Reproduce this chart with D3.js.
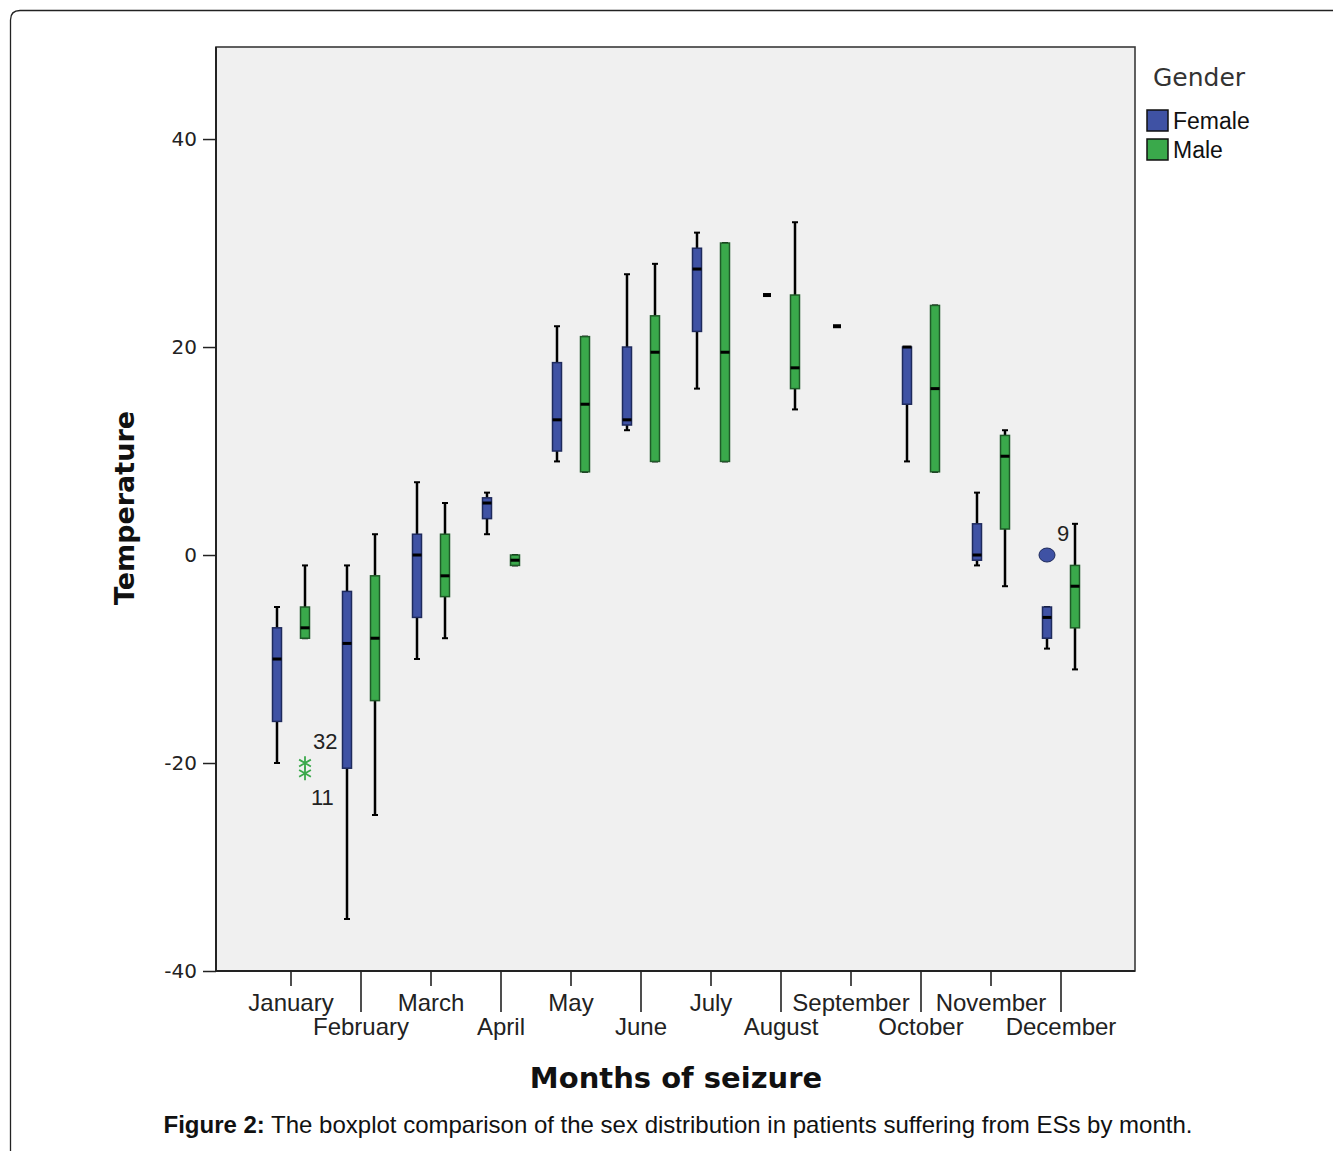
<!DOCTYPE html>
<html>
<head>
<meta charset="utf-8">
<script src="https://cdn.jsdelivr.net/npm/d3@7"></script>
<style>
  body { margin: 0; background: #fff; }
  svg { display: block; }
</style>
</head>
<body>
<svg id="chart" width="1333" height="1151"></svg>
<script>
// months on the x axis
var months = ["January", "February", "March", "April", "May", "June",
  "July", "August", "September", "October", "November", "December"];
var genders = ["Female", "Male"];

// [low whisker, Q1, median, Q3, high whisker] per month
var femaleBoxes = [
  [-20, -16, -10, -7, -5],
  [-35, -20.5, -8.5, -3.5, -1],
  [-10, -6, 0, 2, 7],
  [2, 3.5, 5, 5.5, 6],
  [9, 10, 13, 18.5, 22],
  [12, 12.5, 13, 20, 27],
  [16, 21.5, 27.5, 29.5, 31],
  [25, 25, 25, 25, 25],
  [22, 22, 22, 22, 22],
  [9, 14.5, 20, 20, 20],
  [-1, -0.5, 0, 3, 6],
  [-9, -8, -6, -5, -5]
];
var maleBoxes = [
  [-8, -8, -7, -5, -1],
  [-25, -14, -8, -2, 2],
  [-8, -4, -2, 2, 5],
  [-1, -1, -0.5, 0, 0],
  [8, 8, 14.5, 21, 21],
  [9, 9, 19.5, 23, 28],
  [9, 9, 19.5, 30, 30],
  [14, 16, 18, 25, 32],
  null,
  [8, 8, 16, 24, 24],
  [-3, 2.5, 9.5, 11.5, 12],
  [-11, -7, -3, -1, 3]
];

// outliers / extremes with their case labels
var outlierMonths = ["January", "January", "December"];
var outlierGenders = ["Male", "Male", "Female"];
var outlierValues = [-20, -21, 0];
var outlierLabels = ["32", "11", "9"];
var outlierKinds = ["star", "star", "circle"];

var yTicks = [-40, -20, 0, 20, 40];

var colors = { Female: "#3f52a4", Male: "#3aa94b" };
var strokes = { Female: "#1e2a5c", Male: "#1f5a28" };

var svg = d3.select("#chart");

// outer figure frame (open on the right and bottom)
svg.append("path")
  .attr("d", "M10.5,1160 L10.5,20 Q10.5,10.5 20,10.5 L1345,10.5")
  .attr("fill", "none")
  .attr("stroke", "#222")
  .attr("stroke-width", 1.3);

var plot = { left: 216, right: 1135, top: 47, bottom: 971 };

var x = d3.scaleBand().domain(months).range([256, 1096]);
var xSub = d3.scaleBand().domain(genders).range([7, 63]);
var y = d3.scaleLinear().domain([-40, 48.85]).range([plot.bottom, plot.top]);

function cx(month, gender) {
  return x(month) + xSub(gender) + xSub.bandwidth() / 2;
}

// plot background
svg.append("rect")
  .attr("x", plot.left).attr("y", plot.top)
  .attr("width", plot.right - plot.left)
  .attr("height", plot.bottom - plot.top)
  .attr("fill", "#f0f0f0")
  .attr("stroke", "#3a3a3a")
  .attr("stroke-width", 1.6);

// axis lines along the whole plot edge
svg.append("line")
  .attr("x1", plot.left).attr("x2", plot.left)
  .attr("y1", plot.top).attr("y2", plot.bottom)
  .attr("stroke", "#222").attr("stroke-width", 2);
svg.append("line")
  .attr("x1", plot.left).attr("x2", plot.right)
  .attr("y1", plot.bottom).attr("y2", plot.bottom)
  .attr("stroke", "#222").attr("stroke-width", 2);

// y axis
var yAxis = svg.append("g")
  .attr("transform", "translate(" + plot.left + ",0)")
  .call(d3.axisLeft(y).tickValues(yTicks).tickSize(13).tickSizeOuter(0).tickPadding(6)
    .tickFormat(function (d) { return String(d); }));
yAxis.select(".domain").remove();
yAxis.selectAll(".tick line").attr("stroke", "#222").attr("stroke-width", 1.5);
yAxis.selectAll(".tick text")
  .attr("font-family", "DejaVu Sans")
  .attr("font-size", 20)
  .attr("fill", "#222");

// x axis with staggered labels
var xAxis = svg.append("g")
  .attr("transform", "translate(0," + plot.bottom + ")")
  .call(d3.axisBottom(x).tickSize(0).tickPadding(0));
xAxis.select(".domain").remove();
xAxis.selectAll(".tick line")
  .attr("y2", function (d, i) { return i % 2 === 0 ? 15 : 41; })
  .attr("stroke", "#222").attr("stroke-width", 1.6);
xAxis.selectAll(".tick text")
  .attr("y", function (d, i) { return i % 2 === 0 ? 40 : 64; })
  .attr("dy", 0)
  .attr("font-family", "Liberation Sans, Arial")
  .attr("font-size", 24)
  .attr("fill", "#222");

// axis titles
svg.append("text")
  .attr("transform", "translate(134,508) rotate(-90)")
  .attr("text-anchor", "middle")
  .attr("font-family", "DejaVu Sans")
  .attr("font-weight", "bold")
  .attr("font-size", 27)
  .attr("fill", "#111")
  .text("Temperature");

svg.append("text")
  .attr("x", 676).attr("y", 1088)
  .attr("text-anchor", "middle")
  .attr("font-family", "DejaVu Sans")
  .attr("font-weight", "bold")
  .attr("font-size", 29)
  .attr("fill", "#111")
  .text("Months of seizure");

// boxes
var boxWidth = 9;
var series = [
  { gender: "Female", boxes: femaleBoxes },
  { gender: "Male", boxes: maleBoxes }
];

series.forEach(function (s) {
  var g = svg.append("g").attr("class", "series-" + s.gender);
  s.boxes.forEach(function (b, i) {
    if (!b) return;
    var m = months[i];
    var c = cx(m, s.gender);
    var lo = b[0], q1 = b[1], med = b[2], q3 = b[3], hi = b[4];
    if (q1 === q3) {
      // single value: draw a short black dash
      g.append("rect")
        .attr("x", c - 4).attr("y", y(med) - 2)
        .attr("width", 8).attr("height", 4)
        .attr("fill", "#000");
      return;
    }
    // whiskers
    g.append("line")
      .attr("x1", c).attr("x2", c)
      .attr("y1", y(hi)).attr("y2", y(q3))
      .attr("stroke", "#000").attr("stroke-width", 2.5);
    g.append("line")
      .attr("x1", c).attr("x2", c)
      .attr("y1", y(q1)).attr("y2", y(lo))
      .attr("stroke", "#000").attr("stroke-width", 2.5);
    // caps
    [lo, hi].forEach(function (v) {
      g.append("line")
        .attr("x1", c - 3).attr("x2", c + 3)
        .attr("y1", y(v)).attr("y2", y(v))
        .attr("stroke", "#000").attr("stroke-width", 2);
    });
    // box
    g.append("rect")
      .attr("x", c - boxWidth / 2).attr("y", y(q3))
      .attr("width", boxWidth).attr("height", y(q1) - y(q3))
      .attr("fill", colors[s.gender])
      .attr("stroke", strokes[s.gender])
      .attr("stroke-width", 1.5);
    // median
    g.append("line")
      .attr("x1", c - boxWidth / 2).attr("x2", c + boxWidth / 2)
      .attr("y1", y(med)).attr("y2", y(med))
      .attr("stroke", "#000").attr("stroke-width", 3);
  });
});

// outliers
var star = d3.symbol().type(d3.symbolAsterisk).size(130);
outlierValues.forEach(function (v, i) {
  var c = cx(outlierMonths[i], outlierGenders[i]);
  var g = outlierGenders[i];
  if (outlierKinds[i] === "star") {
    svg.append("path")
      .attr("d", star)
      .attr("transform", "translate(" + c + "," + y(v) + ")")
      .attr("fill", "none")
      .attr("stroke", colors[g])
      .attr("stroke-width", 1.8);
  } else {
    svg.append("ellipse")
      .attr("cx", c).attr("cy", y(v))
      .attr("rx", 8).attr("ry", 7)
      .attr("fill", colors[g])
      .attr("stroke", strokes[g])
      .attr("stroke-width", 1);
  }
});

// case labels next to outliers
var labelOffsets = [[8, -14], [6, 32], [10, -14]];
outlierValues.forEach(function (v, i) {
  var c = cx(outlierMonths[i], outlierGenders[i]);
  svg.append("text")
    .attr("x", c + labelOffsets[i][0])
    .attr("y", y(v) + labelOffsets[i][1])
    .attr("font-family", "Liberation Sans, Arial")
    .attr("font-size", 22)
    .attr("fill", "#222")
    .text(outlierLabels[i]);
});

// legend
var legend = svg.append("g").attr("transform", "translate(1147,0)");
legend.append("text")
  .attr("x", 6).attr("y", 86)
  .attr("font-family", "DejaVu Sans")
  .attr("font-size", 25)
  .attr("fill", "#333")
  .text("Gender");
genders.forEach(function (gname, i) {
  legend.append("rect")
    .attr("x", 0).attr("y", 110 + i * 29)
    .attr("width", 21).attr("height", 21)
    .attr("fill", colors[gname])
    .attr("stroke", "#111")
    .attr("stroke-width", 1.5);
  legend.append("text")
    .attr("x", 26).attr("y", 129 + i * 29)
    .attr("font-family", "Liberation Sans, Arial")
    .attr("font-size", 23)
    .attr("fill", "#111")
    .text(gname);
});

// caption
var cap = svg.append("text")
  .attr("x", 678).attr("y", 1133)
  .attr("text-anchor", "middle")
  .attr("font-family", "Liberation Sans, Arial")
  .attr("font-size", 24)
  .attr("fill", "#111");
cap.append("tspan").attr("font-weight", "bold").text("Figure 2:");
cap.append("tspan").text(" The boxplot comparison of the sex distribution in patients suffering from ESs by month.");
</script>
</body>
</html>
